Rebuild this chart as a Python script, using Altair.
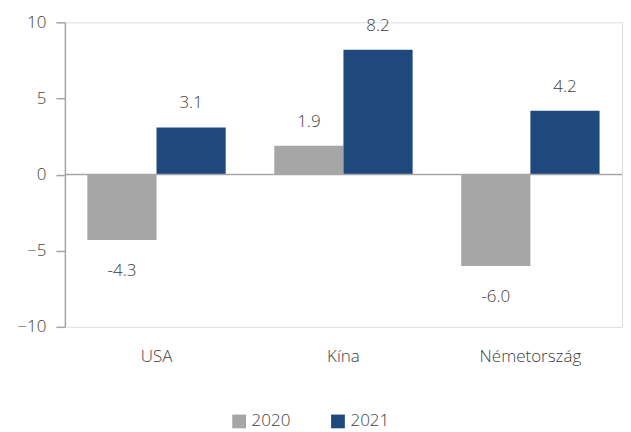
import altair as alt
import pandas as pd

countries = ["USA", "Kína", "Németország"]
years = ["2020", "2021"]
values_2020 = [-4.3, 1.9, -6.0]
values_2021 = [3.1, 8.2, 4.2]

rows = []
for i, c in enumerate(countries):
    rows.append({"country": c, "year": "2020", "value": values_2020[i]})
    rows.append({"country": c, "year": "2021", "value": values_2021[i]})
df = pd.DataFrame(rows)
df["label"] = df["value"].map(lambda v: f"{v:.1f}")

FONT = "Open Sans"
TXT = "#404040"
AX = "#a6a6a6"
FS = 17

x = alt.X("country:N", sort=countries, title=None,
          scale=alt.Scale(paddingInner=0.26, paddingOuter=0.12),
          axis=alt.Axis(domain=False, ticks=False, labelAngle=0, labelPadding=22,
                        labelFontSize=FS, labelColor=TXT, labelFont=FONT, labelFontWeight=300))
xo = alt.XOffset("year:N", sort=years)
y = alt.Y("value:Q", title=None,
          scale=alt.Scale(domain=[-10, 10], nice=False),
          axis=alt.Axis(values=[-10, -5, 0, 5, 10], grid=False, domainColor=AX, domainWidth=1.5,
                        tickColor=AX, tickSize=9, tickWidth=1.5, labelPadding=10,
                        labelFontSize=FS, labelColor=TXT, labelFont=FONT, labelFontWeight=300))

color = alt.Color("year:N", sort=years,
                  scale=alt.Scale(domain=years, range=["#a6a6a6", "#1f497d"]),
                  legend=alt.Legend(title=None, orient="none", direction="horizontal",
                                    legendX=166, legendY=391, symbolType="square",
                                    symbolSize=190, symbolStrokeWidth=0, labelFontSize=FS,
                                    labelColor=TXT, labelFont=FONT, labelFontWeight=300,
                                    columnPadding=39, labelOffset=4))

base = alt.Chart(df)
bars = base.mark_bar().encode(x=x, xOffset=xo, y=y, color=color)

zero = alt.Chart(pd.DataFrame({"z": [0]})).mark_rule(color=AX, strokeWidth=1.5).encode(y="z:Q")

pos = base.transform_filter("datum.value >= 0").mark_text(
    baseline="middle", dy=-24, fontSize=FS, color=TXT, font=FONT, fontWeight=300
).encode(x=alt.X("country:N", sort=countries), xOffset=xo, y="value:Q", text="label:N")
neg = base.transform_filter("datum.value < 0").mark_text(
    baseline="middle", dy=31, fontSize=FS, color=TXT, font=FONT, fontWeight=300
).encode(x=alt.X("country:N", sort=countries), xOffset=xo, y="value:Q", text="label:N")

chart = alt.layer(bars, zero, pos, neg).properties(
    width=558, height=305,
    padding={"left": 8, "top": 5, "right": 0, "bottom": 5}
).configure_view(stroke=None).configure(font=FONT)

chart.save("out.html", embed_options={"renderer": "svg", "actions": False})
